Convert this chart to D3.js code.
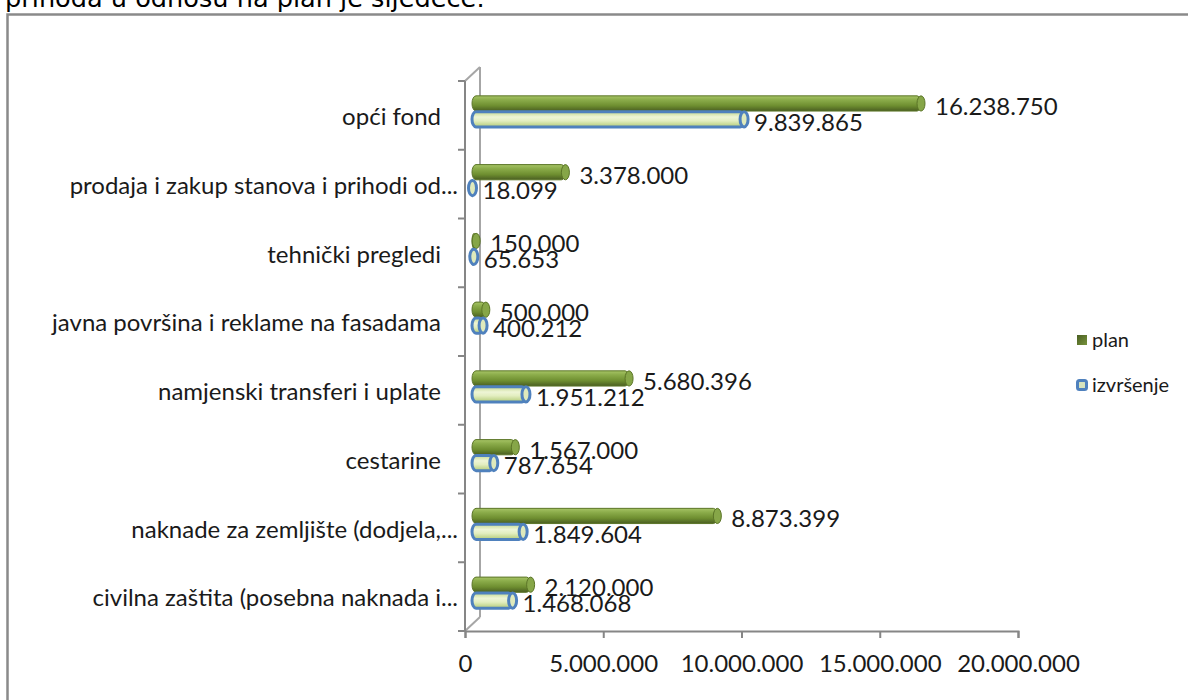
<!DOCTYPE html>
<html>
<head>
<meta charset="utf-8">
<script src="https://cdn.jsdelivr.net/npm/d3@7"></script>
<style>
  html, body { margin: 0; padding: 0; background: #fff; }
  svg { display: block; }
</style>
</head>
<body>
<svg id="chart" width="1188" height="700"></svg>
<script>
// ---------- DATA ----------
const categories = [
  "opći fond",
  "prodaja i zakup stanova i prihodi od...",
  "tehnički pregledi",
  "javna površina i reklame na fasadama",
  "namjenski transferi i uplate",
  "cestarine",
  "naknade za zemljište (dodjela,...",
  "civilna zaštita (posebna naknada i..."
];
const seriesNames = ["plan", "izvršenje"];
const planValues = [16238750, 3378000, 150000, 500000, 5680396, 1567000, 8873399, 2120000];
const izvrsenjeValues = [9839865, 18099, 65653, 400212, 1951212, 787654, 1849604, 1468068];
const xTickValues = [0, 5000000, 10000000, 15000000, 20000000];
const introText = "prihoda u odnosu na plan je sljedeće:";

// ---------- SETUP ----------
const svg = d3.select("#chart");
const fmt = d3.formatLocale({decimal: ",", thousands: ".", grouping: [3], currency: ["", ""]}).format(",");
const FONT = "Lato, 'Open Sans', sans-serif";
const axisColor = "#868686";

svg.append("rect").attr("width", 1188).attr("height", 700).attr("fill", "#fff");

// intro text (clipped at top)
svg.append("text")
  .attr("x", 5).attr("y", 7)
  .attr("font-family", "'DejaVu Sans', Verdana, sans-serif")
  .attr("font-size", 25.6)
  .attr("fill", "#000")
  .text(introText);

// frame
svg.append("rect")
  .attr("x", 7.5).attr("y", 14.5)
  .attr("width", 1300).attr("height", 800)
  .attr("fill", "none").attr("stroke", "#8a8a8a").attr("stroke-width", 2.5);

// scales
const x = d3.scaleLinear().domain([0, 20000000]).range([465, 1018]);
const y = d3.scaleBand().domain(categories).range([81, 631]).paddingInner(0.53).paddingOuter(0.265);
const yInner = d3.scaleBand().domain(seriesNames).range([0, y.bandwidth()]).padding(0.04);

const depthX = 15, depthY = -14;
const x0 = x(0);

// defs: gradients
const defs = svg.append("defs");
const gPlan = defs.append("linearGradient").attr("id", "gPlan").attr("x1", 0).attr("y1", 0).attr("x2", 0).attr("y2", 1);
[["0%", "#a7c466"], ["25%", "#8cad4b"], ["65%", "#6e8e30"], ["100%", "#4a5e22"]].forEach(s =>
  gPlan.append("stop").attr("offset", s[0]).attr("stop-color", s[1]));
const gIzv = defs.append("linearGradient").attr("id", "gIzv").attr("x1", 0).attr("y1", 0).attr("x2", 0).attr("y2", 1);
[["0%", "#c4d890"], ["35%", "#eef5d6"], ["60%", "#e3eec0"], ["100%", "#b3cb78"]].forEach(s =>
  gIzv.append("stop").attr("offset", s[0]).attr("stop-color", s[1]));
const gLegPlan = defs.append("linearGradient").attr("id", "gLegPlan").attr("x1", 0).attr("y1", 0).attr("x2", 1).attr("y2", 1);
[["0%", "#4a5e22"], ["100%", "#77933c"]].forEach(s =>
  gLegPlan.append("stop").attr("offset", s[0]).attr("stop-color", s[1]));

// walls (3D frame)
const walls = svg.append("g").attr("stroke", "#a6a6a6").attr("stroke-width", 2).attr("fill", "none");
walls.append("line").attr("x1", x0 + depthX).attr("y1", 81 + depthY).attr("x2", x0 + depthX).attr("y2", 631 + depthY);
walls.append("line").attr("x1", x0).attr("y1", 631).attr("x2", x0 + depthX).attr("y2", 631 + depthY);
walls.append("line").attr("x1", x0).attr("y1", 81).attr("x2", x0 + depthX).attr("y2", 81 + depthY);

// front vertical axis line and boundary ticks
const vAxis = svg.append("g").attr("stroke", axisColor).attr("stroke-width", 2);
vAxis.append("line").attr("x1", x0).attr("x2", x0).attr("y1", 81).attr("y2", 631);
const boundaries = d3.range(categories.length + 1).map(i => 81 + i * y.step());
vAxis.selectAll("line.tk").data(boundaries).join("line").attr("class", "tk")
  .attr("x1", x0 - 7).attr("x2", x0).attr("y1", d => d).attr("y2", d => d);

// category labels
const yAxis = svg.append("g").attr("transform", `translate(${x0},2)`)
  .call(d3.axisLeft(y).tickSize(0).tickPadding(0));
yAxis.select(".domain").remove();
yAxis.selectAll("text")
  .attr("x", d => d.endsWith("...") ? -7 : -24)
  .attr("font-family", FONT).attr("font-size", 24).attr("fill", "#1a1a1a")
  .attr("dy", "0.32em");

// bottom axis
const xAxis = svg.append("g").attr("transform", "translate(0,631)")
  .call(d3.axisBottom(x).tickValues(xTickValues).tickFormat(fmt).tickSize(7).tickPadding(17));
xAxis.select(".domain").attr("stroke", axisColor).attr("stroke-width", 2);
xAxis.selectAll(".tick line").attr("stroke", axisColor).attr("stroke-width", 2);
xAxis.selectAll(".tick text").attr("font-family", FONT).attr("font-size", 24).attr("fill", "#1a1a1a");

// bars
const rows = categories.map((c, i) => ({cat: c, plan: planValues[i], izv: izvrsenjeValues[i]}));
const barOffX = 7, barOffY = -4;
const capRx = 4;

const groups = svg.append("g").attr("transform", `translate(${barOffX},${barOffY})`)
  .selectAll("g.cat").data(rows).join("g").attr("class", "cat")
  .attr("transform", d => `translate(0,${y(d.cat)})`);

function drawCyl(sel, key, value, fill, stroke, sw, capFill, gap) {
  const by = yInner(key), h = yInner.bandwidth();
  const xe = x(value);
  const g = sel.append("g");
  g.append("rect")
    .attr("x", x0).attr("y", by)
    .attr("width", Math.max(0, xe - x0)).attr("height", h)
    .attr("rx", capRx).attr("ry", h / 2)
    .attr("fill", fill).attr("stroke", stroke).attr("stroke-width", sw);
  g.append("ellipse")
    .attr("cx", xe).attr("cy", by + h / 2)
    .attr("rx", capRx).attr("ry", h / 2)
    .attr("fill", capFill).attr("stroke", stroke).attr("stroke-width", sw);
  g.append("text")
    .attr("x", xe + capRx + gap).attr("y", by + h / 2 + 3)
    .attr("dy", "0.35em")
    .attr("font-family", FONT).attr("font-size", 24).attr("fill", "#1a1a1a")
    .text(fmt(value));
}

groups.each(function(d) {
  drawCyl(d3.select(this), "plan", d.plan, "url(#gPlan)", "#5b7527", 1, "#86a648", 10);
});
groups.each(function(d) {
  drawCyl(d3.select(this), "izvršenje", d.izv, "url(#gIzv)", "#4f81bd", 3, "#dfeabc", 6);
});

// legend
const legend = svg.append("g").attr("transform", "translate(1076,335)");
const legItems = legend.selectAll("g").data(seriesNames).join("g")
  .attr("transform", (d, i) => `translate(0,${i * 45})`);
legItems.append("rect")
  .attr("x", (d, i) => i ? 1.5 : 1).attr("y", (d, i) => i ? 0.5 : 0)
  .attr("width", (d, i) => i ? 9 : 10).attr("height", (d, i) => i ? 9 : 10)
  .attr("rx", (d, i) => i ? 2 : 0)
  .attr("fill", (d, i) => i ? "#d7e4bd" : "url(#gLegPlan)")
  .attr("stroke", (d, i) => i ? "#4f81bd" : "none")
  .attr("stroke-width", 3);
legItems.append("text")
  .attr("x", 16).attr("y", 5).attr("dy", "0.35em")
  .attr("font-family", FONT).attr("font-size", 20).attr("fill", "#1a1a1a")
  .text(d => d);
</script>
</body>
</html>
